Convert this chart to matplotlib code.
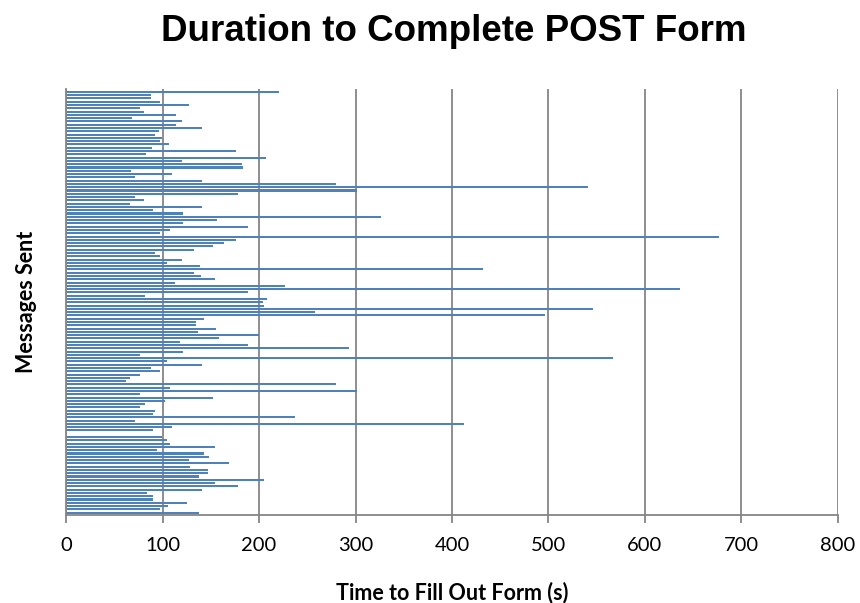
import matplotlib
matplotlib.use("Agg")
import matplotlib.pyplot as plt

# bar lengths in seconds, read top to bottom
times_top = [221, 88, 88, 97, 127, 77, 81, 114, 68, 120, 114, 141, 96, 92, 99, 97,
             107, 89, 176, 83, 207, 120, 182, 183, 67, 110, 71, 141, 280, 541, 302, 178]
times_mid1 = [71, 81, 66, 141, 90, 121, 326, 156, 121, 189, 108, 97, 677, 176, 164, 152,
              133, 92, 97, 120, 104, 139, 432, 133, 140, 154, 113, 227, 637, 189, 82, 208, 204]
times_mid2 = [205, 546, 258, 497, 143, 135, 135, 155, 137, 200, 158, 118, 189, 293, 121, 77,
              567, 104, 141, 88, 97, 77, 66, 62, 280, 108, 302, 77, 152, 102, 82]
times_bottom = [77, 92, 90, 237, 71, 413, 110, 90, 0, 99, 104, 108, 154, 94, 143, 148, 127,
                169, 128, 147, 147, 138, 205, 154, 178, 141, 84, 90, 90, 125, 106, 97, 138]

times = times_top + times_mid1 + times_mid2 + times_bottom
x_ticks = [0, 100, 200, 300, 400, 500, 600, 700, 800]

plt.rcParams['font.family'] = ['Liberation Sans', 'DejaVu Sans']

fig = plt.figure(figsize=(8.6, 6.03), dpi=100)
ax = fig.add_axes([0.077, 0.146, 0.897, 0.706])

ax.barh(range(len(times)), times, height=0.62, color="#4f81bd", edgecolor="none")
ax.set_ylim(len(times) - 0.3, -0.8)
ax.set_xlim(0, 800)
ax.set_xticks(x_ticks)
ax.set_xticklabels([str(t) for t in x_ticks], fontsize=14.5, family=['Lato', 'DejaVu Sans'])
ax.set_yticks([])

ax.grid(axis="x", color="#868686", linewidth=1.3)
ax.set_axisbelow(True)
for side in ["top", "right"]:
    ax.spines[side].set_visible(False)
for side in ["left", "bottom"]:
    ax.spines[side].set_color("#868686")
    ax.spines[side].set_linewidth(1.3)
ax.tick_params(axis="x", length=6, width=1.3, color="#868686", pad=10)

ax.set_xlabel("Time to Fill Out Form (s)", fontsize=15.5, fontweight="bold",
              family=['Lato', 'DejaVu Sans'], labelpad=20)
ax.set_ylabel("Messages Sent", fontsize=15.5, fontweight="bold",
              family=['Lato', 'DejaVu Sans'], labelpad=21)

fig.text(0.528, 0.948, "Duration to Complete POST Form", ha="center", va="center",
         fontsize=26.5, fontweight="bold")

fig.savefig("out.png", dpi=100)
